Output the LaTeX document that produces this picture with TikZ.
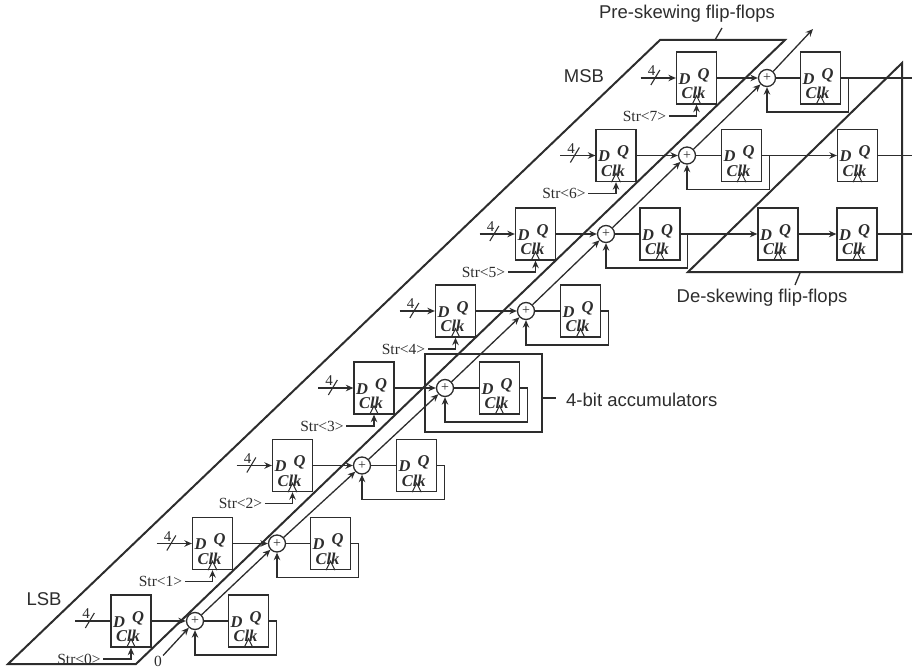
\documentclass[tikz,border=0pt]{standalone}
\usepackage{fontspec}
\setmainfont{Liberation Serif}
\newfontfamily\lblsans{Liberation Sans}
\usetikzlibrary{arrows.meta,calc}
\definecolor{ink}{RGB}{45,45,45}
\tikzset{
  wire/.style={line width=1.3pt,draw=ink},
  arr/.style={wire,-{Stealth[length=7.5pt,width=6.5pt]}},
  ffbox/.style={draw=ink,line width=1.3pt,minimum width=40pt,minimum height=52pt,inner sep=0pt},
  fflbl/.style={inner sep=0pt,text=ink,font=\fontsize{16.5}{16.5}\selectfont\bfseries\itshape},
  sumnode/.style={draw=ink,line width=1.3pt,circle,minimum size=17pt,inner sep=0pt,font=\fontsize{14}{14}\selectfont,text=ink},
  group/.style={draw=ink,line width=2pt,line join=miter},
  sanslbl/.style={inner sep=0pt,text=ink,font=\lblsans\fontsize{18.5}{18.5}\selectfont},
  strlbl/.style={inner sep=2.5pt,text=ink,font=\fontsize{15.5}{15.5}\selectfont},
  fourlbl/.style={inner sep=0pt,text=ink,font=\fontsize{15}{15}\selectfont}
}
\newcommand{\flipflop}[3]{%
  \node[ffbox] (#1) at (#2,#3) {};
  \node[fflbl] (#1D) at ([shift={(-12,1)}]#1.center) {D};
  \node[fflbl] (#1Q) at ([shift={(7,-3)}]#1.center) {Q};
  \node[fflbl] (#1C) at ([shift={(-3,15)}]#1.center) {Clk};
  \draw[wire,line width=1pt] ([xshift=-4.5pt]#1.south) -- ([yshift=9pt]#1.south) -- ([xshift=4.5pt]#1.south);
}
\begin{document}
\begin{tikzpicture}[x=1pt,y=-1pt]
\useasboundingbox (0,0) rectangle (912,671);
% group outlines
\draw[group] (8,664) -- (660,40) -- (785,40) -- (136,664) -- cycle;
\draw[group] (688,272) -- (902,63) -- (902,272) -- cycle;
\draw[group] (425,354) rectangle (542,432);
% rows
\foreach \r/\px/\ax/\sx/\y in {0/131/248.5/195/621,1/212.5/330.5/277/543.5,2/292.5/416.7/362/465.5,3/374/499.5/445/388,4/455.5/580.5/526/311,5/535.5/660/606/234,6/616/741.5/687/155.5,7/696.5/820.5/767/78}{
  \flipflop{pre\r}{\px}{\y}
  \flipflop{acc\r}{\ax}{\y}
  \node[sumnode] (sum\r) at (\sx,\y) {+};
  \coordinate (in\r) at (\px-56,\y);
  \node[strlbl] (str\r) at (\px-52,\y+38) {Str<\r>};
  \node[fourlbl] (four\r) at (\px-45,\y-7) {4};
  \draw[arr] (pre\r) -- (sum\r);
  \draw[wire] (sum\r) -- (acc\r);
  \draw[arr] (str\r.east) -| (pre\r.south);
  \draw[arr] (acc\r.east) -- ++(7,0) -- ++(0,34) -| (sum\r.south);
  \draw[wire,line width=1.1pt] ($(pre\r.west)+(-25,7)$) -- ($(pre\r.west)+(-16,-8)$);
}
% inputs
\draw[wire] (in0) -- (pre0.west);
\foreach \r in {1,...,7}{\draw[arr] (in\r) -- (pre\r.west);}
% carry chain
\node[strlbl,inner sep=1pt] (zero) at (158,661) {0};
\coordinate (carryout) at (813,29);
\draw[arr] (zero) -- (sum0);
\foreach \a/\b in {0/1,1/2,2/3,3/4,4/5,5/6,6/7}{\draw[arr] (sum\a) -- (sum\b);}
\draw[arr] (sum7) -- (carryout);
% de-skewing flip-flops
\flipflop{dsA}{778}{234}
\flipflop{dsB}{857}{234}
\flipflop{dsC}{857.5}{155.5}
\coordinate (outA) at (912,234);
\coordinate (outB) at (912,155.5);
\coordinate (outC) at (912,78);
\draw[arr] (acc5) -- (dsA);
\draw[arr] (dsA) -- (dsB);
\draw[wire] (dsB) -- (outA);
\draw[arr] (acc6) -- (dsC);
\draw[wire] (dsC) -- (outB);
\draw[wire] (acc7) -- (outC);
% labels
\node[sanslbl] (lsb) at (44,599) {LSB};
\node[sanslbl] (msb) at (584,76) {MSB};
\node[sanslbl,anchor=west] (accl) at (566,400) {4-bit accumulators};
\node[sanslbl] (prel) at (687,14) {Pre-skewing flip-flops};
\node[sanslbl] (desl) at (762,298) {De-skewing flip-flops};
\coordinate (preA) at (715,40);
\coordinate (preB) at (722,28);
\coordinate (desA) at (800,273);
\coordinate (desB) at (795,285);
\coordinate (accA) at (542,398);
\coordinate (accB) at (556,398);
\draw[wire] (preA) -- (preB);
\draw[wire] (desA) -- (desB);
\draw[wire] (accA) -- (accB);
\end{tikzpicture}
\end{document}
